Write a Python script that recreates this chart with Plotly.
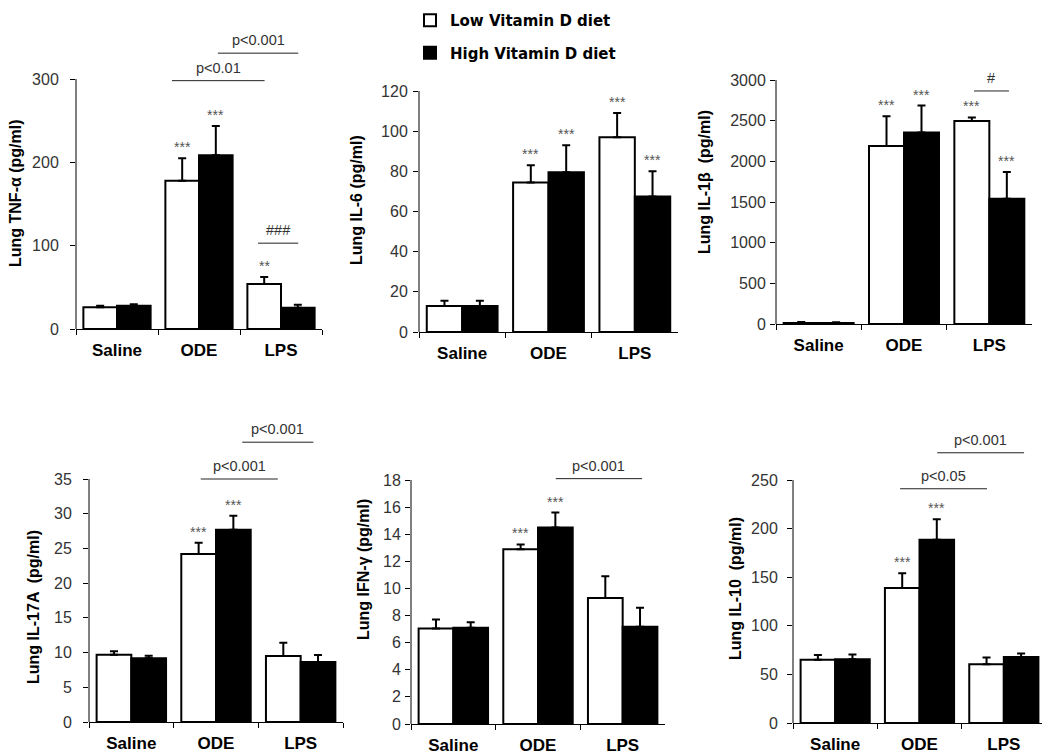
import plotly.graph_objects as go

# ---------------- data ----------------
categories = ["Saline", "ODE", "LPS"]
series_names = ["Low Vitamin D diet", "High Vitamin D diet"]

tnf_low = [26, 178, 54]
tnf_low_err = [1.8, 27, 8.4]
tnf_high = [28, 208.5, 25.5]
tnf_high_err = [1.8, 35, 3.6]
tnf_low_stars = ["", "***", "**"]
tnf_high_stars = ["", "***", ""]

il6_low = [13, 74.5, 97]
il6_low_err = [2.5, 8.5, 12]
il6_high = [13, 79.5, 67.5]
il6_high_err = [2.5, 13.5, 12.5]
il6_low_stars = ["", "***", "***"]
il6_high_stars = ["", "***", "***"]

il1b_low = [12, 2190, 2495]
il1b_low_err = [12, 365, 45]
il1b_high = [12, 2355, 1540]
il1b_high_err = [10, 330, 330]
il1b_low_stars = ["", "***", "***"]
il1b_high_stars = ["", "***", "***"]

il17_low = [9.7, 24.2, 9.5]
il17_low_err = [0.5, 1.6, 1.9]
il17_high = [9.2, 27.7, 8.65]
il17_high_err = [0.35, 2.0, 1.0]
il17_low_stars = ["", "***", ""]
il17_high_stars = ["", "***", ""]

ifn_low = [7.05, 12.9, 9.3]
ifn_low_err = [0.65, 0.35, 1.6]
ifn_high = [7.1, 14.5, 7.17]
ifn_high_err = [0.4, 1.1, 1.4]
ifn_low_stars = ["", "***", ""]
ifn_high_stars = ["", "***", ""]

il10_low = [65, 139, 60.5]
il10_low_err = [5, 15, 7]
il10_high = [65.5, 188.5, 68]
il10_high_err = [5, 21, 3.5]
il10_low_stars = ["", "***", ""]
il10_high_stars = ["", "***", ""]

titles = ["Lung TNF-α (pg/ml)", "Lung IL-6 (pg/ml)", "Lung IL-1β  (pg/ml)",
          "Lung IL-17A  (pg/ml)", "Lung IFN-γ (pg/ml)", "Lung IL-10  (pg/ml)"]
ytick_values = [
    [0, 100, 200, 300],
    [0, 20, 40, 60, 80, 100, 120],
    [0, 500, 1000, 1500, 2000, 2500, 3000],
    [0, 5, 10, 15, 20, 25, 30, 35],
    [0, 2, 4, 6, 8, 10, 12, 14, 16, 18],
    [0, 50, 100, 150, 200, 250],
]
# significance brackets: (x start, x end, height, label) in category units
tnf_brackets = [(0.67, 1.80, 298, "p<0.01"), (1.23, 2.21, 331, "p<0.001"), (1.72, 2.21, 103, "###")]
il6_brackets = []
il1b_brackets = [(1.82, 2.23, 2865, "#")]
il17_brackets = [(0.82, 1.73, 35.0, "p<0.001"), (1.31, 2.15, 40.3, "p<0.001")]
ifn_brackets = [(1.21, 2.23, 18.1, "p<0.001")]
il10_brackets = [(0.77, 1.80, 241, "p<0.05"), (1.21, 2.24, 278, "p<0.001")]

panels = [
    (tnf_low, tnf_low_err, tnf_high, tnf_high_err, tnf_low_stars, tnf_high_stars, tnf_brackets),
    (il6_low, il6_low_err, il6_high, il6_high_err, il6_low_stars, il6_high_stars, il6_brackets),
    (il1b_low, il1b_low_err, il1b_high, il1b_high_err, il1b_low_stars, il1b_high_stars, il1b_brackets),
    (il17_low, il17_low_err, il17_high, il17_high_err, il17_low_stars, il17_high_stars, il17_brackets),
    (ifn_low, ifn_low_err, ifn_high, ifn_high_err, ifn_low_stars, ifn_high_stars, ifn_brackets),
    (il10_low, il10_low_err, il10_high, il10_high_err, il10_low_stars, il10_high_stars, il10_brackets),
]

# ---------------- layout geometry (screen pixels) ----------------
PAGE_OFF = 8                      # default body margin of the html page
W, H = 1050 - PAGE_OFF, 754 - PAGE_OFF


def px_x(p):
    return (p - PAGE_OFF) / W


def px_y(p):
    return (H - (p - PAGE_OFF)) / H


# x left, x right, y pixel of zero, y pixel of top tick, extended range top
geom = [
    (76, 322, 329, 79, 345),
    (419, 678, 332, 91, 120),
    (776, 1032, 324, 80, 3000),
    (89, 343, 722, 479, 42),
    (411, 665, 724, 480, 19),
    (793, 1046, 723, 480, 290),
]
label_standoff = [8, 2, 1, 8, 1, 6]
title_pos = [(15, 193), (357, 200), (704, 182), (33, 607), (363, 570), (735, 589)]

BARGAP = 0.18
half = (1 - BARGAP) / 4.0

fig = go.Figure()
shapes = []
annotations = []
TICKFONT = dict(family="Liberation Sans, Arial", size=16, color="#333333")
CATFONT = dict(family="Liberation Sans, Arial", size=17, color="black", weight="bold")

for i, (low, lerr, high, herr, lst, hst, brackets) in enumerate(panels):
    n = "" if i == 0 else str(i + 1)
    xa, ya = "x" + n, "y" + n
    xl, xr, y0, ytop, rtop = geom[i]
    ymax = ytick_values[i][-1]
    ppu = (y0 - ytop) / ymax
    top_px = y0 - rtop * ppu
    fig.add_trace(go.Bar(
        x=categories, y=low, name=series_names[0], xaxis=xa, yaxis=ya,
        marker=dict(color="white", line=dict(color="black", width=2)),
        error_y=dict(type="data", array=lerr, arrayminus=[0] * len(lerr), symmetric=False,
                     color="black", thickness=2, width=4),
        showlegend=(i == 0), legendgroup="low"))
    fig.add_trace(go.Bar(
        x=categories, y=high, name=series_names[1], xaxis=xa, yaxis=ya,
        marker=dict(color="black", line=dict(color="black", width=2)),
        error_y=dict(type="data", array=herr, arrayminus=[0] * len(herr), symmetric=False,
                     color="black", thickness=2, width=4),
        showlegend=(i == 0), legendgroup="high"))
    fig.update_layout({
        "xaxis" + n: dict(domain=[px_x(xl), px_x(xr)], anchor=ya, type="category",
                          range=[-0.5, 2.5], tickson="boundaries", ticks="outside",
                          ticklen=5, tickcolor="black", showline=True, linecolor="black",
                          linewidth=1, tickfont=CATFONT, ticklabelstandoff=6,
                          showgrid=False, zeroline=False, fixedrange=True),
        "yaxis" + n: dict(domain=[px_y(y0), px_y(top_px)], anchor=xa,
                          range=[0, rtop], tickvals=ytick_values[i], ticks="outside",
                          ticklen=5, tickcolor="black", showline=False, showgrid=False,
                          zeroline=False, tickfont=TICKFONT,
                          ticklabelstandoff=label_standoff[i], fixedrange=True),
    })
    # y axis line, only up to the last tick
    shapes.append(dict(type="line", xref=xa + " domain", yref=ya, x0=0, x1=0, y0=0, y1=ymax,
                       line=dict(color="black", width=1)))
    # y axis title
    tx, ty = title_pos[i]
    annotations.append(dict(text=titles[i], xref="paper", yref="paper",
                            x=px_x(tx), y=px_y(ty), textangle=-90, showarrow=False,
                            xanchor="center", yanchor="middle",
                            font=dict(family="Liberation Sans, Arial", size=16, color="black",
                                      weight="bold")))
    # significance stars
    for j in range(len(categories)):
        for vals, errs, stars, off in ((low, lerr, lst, -half), (high, herr, hst, half)):
            if stars[j]:
                annotations.append(dict(text=stars[j], xref=xa, yref=ya, x=j + off,
                                        y=vals[j] + errs[j], showarrow=False,
                                        xanchor="center", yanchor="bottom", yshift=1,
                                        font=dict(family="Liberation Sans, Arial", size=14,
                                                  color="#555555")))
    # brackets
    for (bx0, bx1, by, lab) in brackets:
        shapes.append(dict(type="line", xref=xa, yref=ya, x0=bx0, x1=bx1, y0=by, y1=by,
                           line=dict(color="#222222", width=1)))
        annotations.append(dict(text=lab.replace("<", "&lt;"), xref=xa, yref=ya,
                                x=(bx0 + bx1) / 2, y=by, showarrow=False,
                                xanchor="center", yanchor="bottom", yshift=3,
                                font=dict(family="Liberation Sans, Arial", size=14.5,
                                          color="#333333")))

fig.update_layout(
    width=W, height=H, autosize=False,
    margin=dict(l=0, r=0, t=0, b=0, pad=0, autoexpand=False),
    paper_bgcolor="white", plot_bgcolor="white",
    barmode="group", bargap=BARGAP, bargroupgap=0,
    shapes=shapes, annotations=annotations,
    showlegend=True,
    legend=dict(x=px_x(410), y=px_y(4), xanchor="left", yanchor="top",
                font=dict(family="DejaVu Sans", size=15, color="black", weight="bold"),
                tracegroupgap=10, bgcolor="rgba(0,0,0,0)", borderwidth=0,
                itemclick=False, itemdoubleclick=False),
)

fig.write_html("out.html")
